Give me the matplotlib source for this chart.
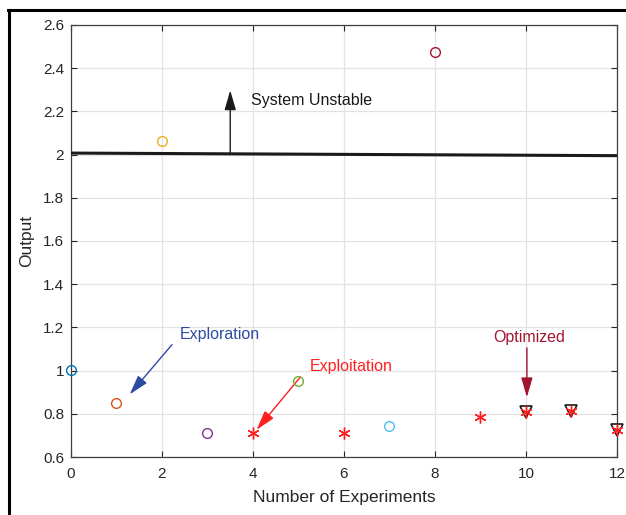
import numpy as np
import matplotlib
matplotlib.use('Agg')
import matplotlib.pyplot as plt
from matplotlib.lines import Line2D

plt.rcParams['font.family'] = ['Liberation Sans', 'DejaVu Sans']

# --- Data ---
circ_x = [0, 1, 2, 3, 5, 7, 8]
circ_y = [1.005, 0.85, 2.065, 0.71, 0.95, 0.745, 2.475]
circ_colors = ['#0072BD', '#D95319', '#EDB120', '#7E2F8E', '#77AC30', '#4DBEEE', '#A2142F']

star_x = [4, 6, 9, 10, 11, 12]
star_y = [0.71, 0.71, 0.785, 0.81, 0.815, 0.725]

opt_x = [10, 11, 12]
opt_y = [0.81, 0.815, 0.725]

limit_x = [0, 12]
limit_y = [2.007, 1.995]

x_ticks = np.arange(0, 13, 2)
y_ticks = np.arange(0.6, 2.61, 0.2)
y_ticklabels = ['0.6', '0.8', '1', '1.2', '1.4', '1.6', '1.8', '2', '2.2', '2.4', '2.6']

fig = plt.figure(figsize=(6.26, 5.15), dpi=100)
ax = fig.add_axes([0.1134, 0.1126, 0.8722, 0.8389])

ax.plot(limit_x, limit_y, color='#1a1a1a', linewidth=2.2, zorder=3)

for x, y, c in zip(circ_x, circ_y, circ_colors):
    ax.plot(x, y, 'o', markersize=7, markerfacecolor='none', markeredgecolor=c,
            markeredgewidth=1.0, clip_on=False, zorder=4)

ax.plot(opt_x, opt_y, linestyle='none', marker='v', markersize=8.5,
        markerfacecolor='none', markeredgecolor='#1a1a1a', markeredgewidth=1.2,
        clip_on=False, zorder=5)
ax.plot(star_x, star_y, linestyle='none', marker=(6, 2, 0), markersize=8.5,
        color='#FF1F1F', markeredgewidth=1.0, clip_on=False, zorder=6)

# annotations
head = '-|>,head_length=1.2,head_width=0.35'
ax.annotate('', xy=(3.5, 2.31), xytext=(3.5, 1.995),
            arrowprops=dict(arrowstyle=head, color='#1a1a1a', lw=1.0))
ax.text(3.96, 2.25, 'System Unstable', fontsize=11.5, color='#1a1a1a', va='center')

ax.annotate('', xy=(1.25, 0.88), xytext=(2.26, 1.13),
            arrowprops=dict(arrowstyle=head, color='#2E4BA0', lw=1.0))
ax.text(2.4, 1.165, 'Exploration', fontsize=11.5, color='#2E4BA0', va='center')

ax.annotate('', xy=(4.04, 0.716), xytext=(5.08, 0.98),
            arrowprops=dict(arrowstyle=head, color='#FF1F1F', lw=1.0))
ax.text(5.25, 1.02, 'Exploitation', fontsize=11.5, color='#FF1F1F', va='center')

ax.annotate('', xy=(10.02, 0.864), xytext=(10.02, 1.118),
            arrowprops=dict(arrowstyle=head, color='#A2142F', lw=1.0))
ax.text(10.08, 1.155, 'Optimized', fontsize=11.5, color='#A2142F', va='center', ha='center')

ax.set_xlim(0, 12)
ax.set_ylim(0.6, 2.6)
ax.set_xticks(x_ticks)
ax.set_yticks(y_ticks)
ax.set_yticklabels(y_ticklabels)
ax.grid(True, color='#e3e3e3', linewidth=0.9)
ax.set_axisbelow(True)
ax.tick_params(direction='in', top=True, right=True, length=4, colors='#262626',
               labelcolor='#262626', labelsize=11)
ax.tick_params(axis='x', pad=7)
ax.tick_params(axis='y', pad=5)
for s in ax.spines.values():
    s.set_color('#404040')
    s.set_linewidth(0.9)
ax.set_xlabel('Number of Experiments', fontsize=12.5, color='#262626', labelpad=7)
ax.set_ylabel('Output', fontsize=12.5, color='#262626', labelpad=6)

# figure frame (top and left edges)
fig.add_artist(Line2D([8 / 626, 1], [1 - 9.5 / 515] * 2, color='black', lw=2.2))
fig.add_artist(Line2D([8.5 / 626] * 2, [0, 1 - 9.5 / 515], color='black', lw=2.2))

fig.savefig('out.png', dpi=100)
